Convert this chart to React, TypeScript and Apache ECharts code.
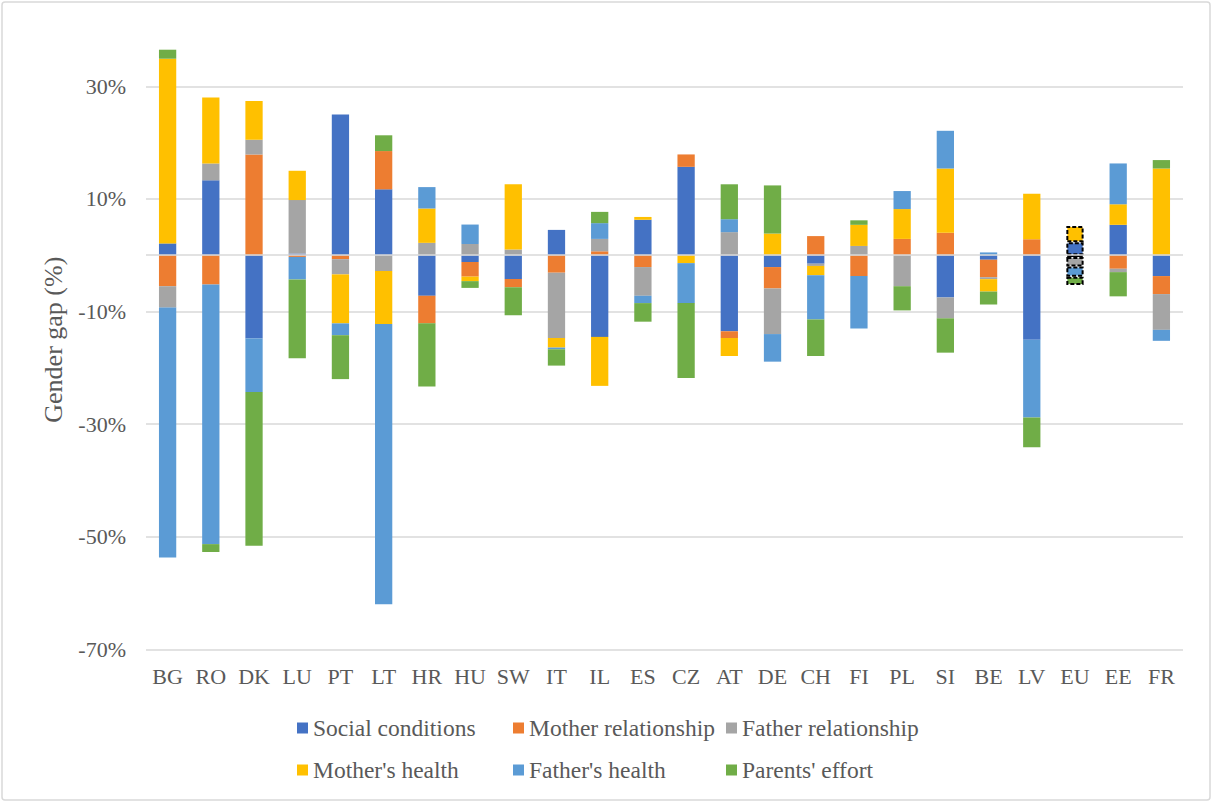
import React, { useEffect, useRef } from "react";
import * as echarts from "echarts";

// Countries along the horizontal axis
const categories = [
  "BG", "RO", "DK", "LU", "PT", "LT", "HR", "HU", "SW", "IT", "IL", "ES",
  "CZ", "AT", "DE", "CH", "FI", "PL", "SI", "BE", "LV", "EU", "EE", "FR",
];

// Contribution of each component to the gender gap, in percentage points
const socialConditions = [
  2.1, 13.3, -14.8, 0.3, 25.0, 11.7, -7.2, -1.2, -4.2, 4.5, -14.5, 6.3,
  15.7, -13.5, -2.1, -1.5, 0, 0, -7.5, -0.8, -15.0, 2.3, 5.4, -3.7,
];
const motherRelationship = [
  -5.5, -5.2, 17.9, -0.3, -0.7, 6.8, -4.9, -2.6, -1.5, -3.1, 0.7, -2.1,
  2.2, -1.2, -3.8, 3.4, -3.7, 2.9, 4.0, -3.1, 2.85, -0.3, -2.4, -3.2,
];
const fatherRelationship = [
  -3.8, 3.0, 2.6, 9.5, -2.7, -2.8, 2.2, 2.0, 1.0, -11.6, 2.2, -5.1,
  0, 4.1, -8.1, -0.4, 1.65, -5.5, -3.7, -0.35, 0, -1.7, -0.6, -6.35,
];
const mothersHealth = [
  32.8, 11.7, 6.9, 5.2, -8.7, -9.4, 6.1, -0.8, 11.6, -1.7, -8.7, 0.5,
  -1.4, -3.2, 3.85, -1.65, 3.75, 5.3, 11.4, -2.2, 8.05, 2.9, 3.65, 15.4,
];
const fathersHealth = [
  -44.4, -46.1, -9.5, -4.0, -2.1, -49.8, 3.8, 3.45, 0, -0.3, 2.8, -1.3,
  -7.1, 2.3, -4.9, -7.85, -9.3, 3.2, 6.7, 0.5, -13.8, -1.8, 7.25, -1.95,
];
const parentsEffort = [
  1.6, -1.4, -27.3, -14.0, -7.8, 2.8, -11.2, -1.2, -4.95, -2.9, 2.0, -3.3,
  -13.3, 6.2, 8.55, -6.5, 0.8, -4.3, -6.1, -2.3, -5.3, -1.5, -4.3, 1.5,
];

const seriesNames = [
  "Social conditions",
  "Mother relationship",
  "Father relationship",
  "Mother's health",
  "Father's health",
  "Parents' effort",
];
const seriesValues = [
  socialConditions,
  motherRelationship,
  fatherRelationship,
  mothersHealth,
  fathersHealth,
  parentsEffort,
];

// Value axis ticks
const yMin = -70;
const yMax = 40;
const yStep = 20;

const palette = ["#4472C4", "#ED7D31", "#A5A5A5", "#FFC000", "#5B9BD5", "#70AD47"];
const FONT = "'Liberation Serif', 'Times New Roman', serif";
const TEXT_COLOR = "#595959";
const GRID_COLOR = "#D9D9D9";

// Key laid out as a 3 x 2 grid (swatch left edges, row centre lines)
const keyCols = [297, 513, 726];
const keyRows = [728, 770];
const SWATCH = 11;

export default function App() {
  const ref = useRef<HTMLDivElement>(null);

  useEffect(() => {
    if (!ref.current) return;
    const chart = echarts.init(ref.current, null, { renderer: "svg" });
    const highlighted = categories.indexOf("EU");
    const serifText = { fontFamily: FONT, fontSize: 22, color: TEXT_COLOR };

    const series = seriesNames.map((name, s) => ({
      name,
      type: "bar",
      stack: "gap",
      barWidth: "40%",
      itemStyle: { color: palette[s] },
      emphasis: { disabled: true },
      data: seriesValues[s].map((v, i) =>
        i === highlighted
          ? {
              value: v,
              itemStyle: { borderColor: "#000", borderWidth: 2, borderType: [4, 2] },
            }
          : v
      ),
      ...(s === 0
        ? {
            markLine: {
              silent: true,
              symbol: "none",
              label: { show: false },
              lineStyle: { color: GRID_COLOR, width: 1.5, type: "solid" },
              data: [{ yAxis: 0 }],
            },
          }
        : {}),
    }));

    // Series key: a swatch and a serif caption per series
    const keyItems = seriesNames.flatMap((name, s) => {
      const x = keyCols[s % 3];
      const y = keyRows[Math.floor(s / 3)];
      return [
        {
          type: "rect",
          silent: true,
          shape: { x, y: y - SWATCH / 2, width: SWATCH, height: SWATCH },
          style: { fill: palette[s] },
        },
        {
          type: "text",
          silent: true,
          x: x + SWATCH + 5,
          y,
          style: {
            text: name,
            fill: TEXT_COLOR,
            fontFamily: FONT,
            fontSize: 23.5,
            fontWeight: "normal",
            verticalAlign: "middle",
            align: "left",
          },
        },
      ];
    });

    chart.setOption({
      animation: false,
      backgroundColor: "#fff",
      textStyle: { fontFamily: FONT },
      grid: { left: 146, right: 30, top: 30, bottom: 153.6, containLabel: false },
      graphic: [
        {
          type: "rect",
          shape: { x: 2, y: 2, width: 1208, height: 798, r: 3 },
          style: { fill: "none", stroke: GRID_COLOR, lineWidth: 1.5 },
          silent: true,
        },
        ...keyItems,
      ],
      xAxis: {
        type: "category",
        data: categories,
        axisLine: { show: false },
        axisTick: { show: false },
        axisLabel: { ...serifText, margin: 16, interval: 0 },
      },
      yAxis: {
        type: "value",
        min: yMin,
        max: yMax,
        interval: yStep,
        name: "Gender gap (%)",
        nameLocation: "middle",
        nameGap: 80,
        nameTextStyle: { fontFamily: FONT, fontSize: 26, color: TEXT_COLOR },
        axisLine: { show: false },
        axisTick: { show: false },
        axisLabel: {
          ...serifText,
          margin: 20,
          showMaxLabel: false,
          formatter: "{value}%",
        },
        splitLine: {
          show: true,
          showMaxLine: false,
          lineStyle: { color: GRID_COLOR, width: 1.5 },
        },
      },
      series,
    });

    return () => chart.dispose();
  }, []);

  return (
    <div
      ref={ref}
      style={{ position: "fixed", left: 0, top: 0, width: 1213, height: 803, background: "#fff" }}
    />
  );
}
